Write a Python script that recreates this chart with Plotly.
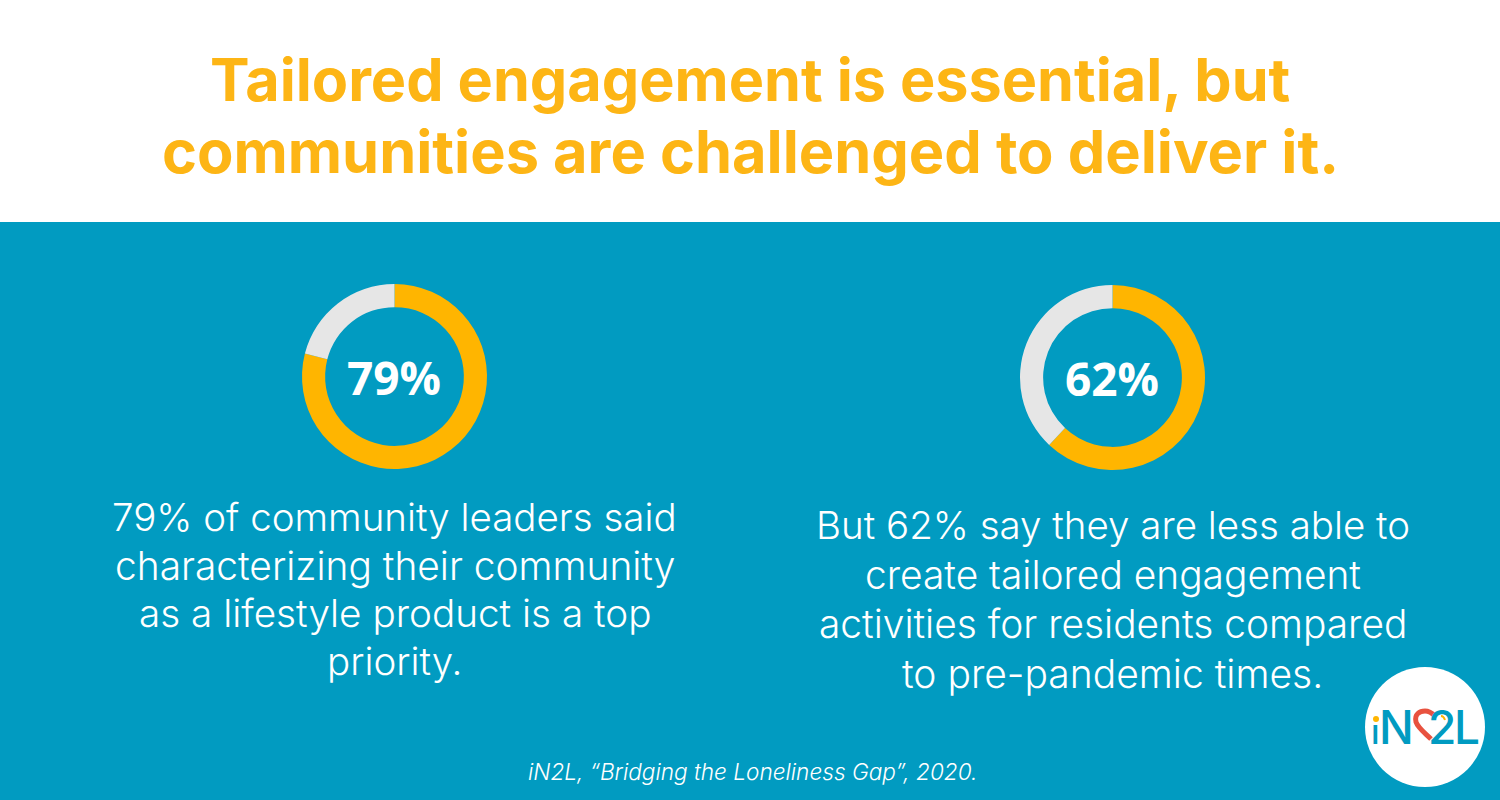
import plotly.graph_objects as go

W, H = 1500, 800
TEAL = "#019BC1"
AMBER = "#FFB500"
GREY = "#E6E6E6"
TITLE_COLOR = "#FDB515"
RED = "#E8523F"

pie_labels = ["Yes", "Other"]
pie_left_values = [79, 21]
pie_right_values = [62, 38]
pie_left_text = "79%"
pie_right_text = "62%"
title_lines = ["Tailored engagement is essential, but", "communities are challenged to deliver it."]
left_lines = ["79% of community leaders said", "characterizing their community",
              "as a lifestyle product is a top", "priority."]
right_lines = ["But 62% say they are less able to", "create tailored engagement",
               "activities for residents compared", "to pre-pandemic times."]
source_text = "iN2L, “Bridging the Loneliness Gap”, 2020."
logo_letters = ["ı", "N", "2", "L"]


def px(x):
    return x / W


def py(y):
    return 1 - y / H


def pie(values, cx, cy, r):
    return go.Pie(
        labels=pie_labels, values=values, hole=0.75, sort=False, direction="clockwise",
        rotation=0, textinfo="none", showlegend=False, hoverinfo="label+percent",
        marker=dict(colors=[AMBER, GREY], line=dict(width=0)),
        domain=dict(x=[px(cx - r), px(cx + r)], y=[py(cy + r), py(cy - r)]),
    )


fig = go.Figure([pie(pie_left_values, 394.5, 376.5, 92.5), pie(pie_right_values, 1112.5, 377.5, 92.5)])


def text(x, y, s, size, color, family="Inter", weight=300, italic=False):
    fig.add_annotation(
        x=px(x), y=py(y), xref="paper", yref="paper", text=s, showarrow=False,
        xanchor="center", yanchor="middle",
        font=dict(size=size, color=color, family=family, weight=weight,
                  style="italic" if italic else "normal"),
    )


for y, s, size in zip([80, 151], title_lines, [59.3, 59.5]):
    text(750, y, s, size, TITLE_COLOR, weight=700)
for y, s, size in zip([517, 565, 613, 661], left_lines, [38.5, 38.9, 38.7, 38.5]):
    text(394.5, y, s, size, "white")
for y, s, size in zip([525, 574, 623, 673], right_lines, [38.5, 38.9, 38.9, 39]):
    text(1112.5, y, s, size, "white")
text(394, 377, pie_left_text, 46, "white", family="Open Sans", weight=700)
text(1112, 378, pie_right_text, 46, "white", family="Open Sans", weight=700)
text(752, 771, source_text, 22.6, "white", italic=True)

# logo wordmark (dotless i, the dot is the amber circle below)
text(1375.5, 731, logo_letters[0], 34, TEAL, weight=500)
for x, s in zip([1396.5, 1442, 1466.5], logo_letters[1:]):
    text(x, 727, s, 46, TEAL, weight=500)


def paper_path(points):
    head, *rest = points
    d = f"M {px(head[0])},{py(head[1])}"
    for seg in rest:
        d += " C " + " ".join(f"{px(a)},{py(b)}" for a, b in seg)
    return d


heart = [(1431, 739),
         ((1425, 733), (1418, 728), (1416, 722)),
         ((1414, 714), (1420, 711), (1425, 711)),
         ((1429, 711), (1432, 713), (1435, 716))]
arc = [(1441, 716), ((1443, 716), (1444, 717), (1445, 720))]

shapes = [
    dict(type="rect", xref="paper", yref="paper", x0=0, x1=1, y0=py(222), y1=1,
         fillcolor="white", line_width=0, layer="below"),
    dict(type="circle", xref="paper", yref="paper", x0=px(1365), x1=px(1485), y0=py(787), y1=py(667),
         fillcolor="white", line_width=0, layer="below"),
    dict(type="path", xref="paper", yref="paper", path=paper_path(heart),
         line=dict(color=RED, width=5), layer="above"),
    dict(type="path", xref="paper", yref="paper", path=paper_path(arc),
         line=dict(color=AMBER, width=2), layer="above"),
    dict(type="circle", xref="paper", yref="paper", x0=px(1373), x1=px(1379), y0=py(722), y1=py(716),
         fillcolor=AMBER, line_width=0, layer="above"),
]
fig.update_layout(
    autosize=True,
    margin=dict(l=0, r=0, t=0, b=0),
    paper_bgcolor=TEAL, plot_bgcolor=TEAL,
    shapes=shapes,
)
fig.write_html("out.html", config={"displayModeBar": False},
               default_width=f"{W}px", default_height=f"{H}px",
               post_script="document.body.style.margin='0';")
